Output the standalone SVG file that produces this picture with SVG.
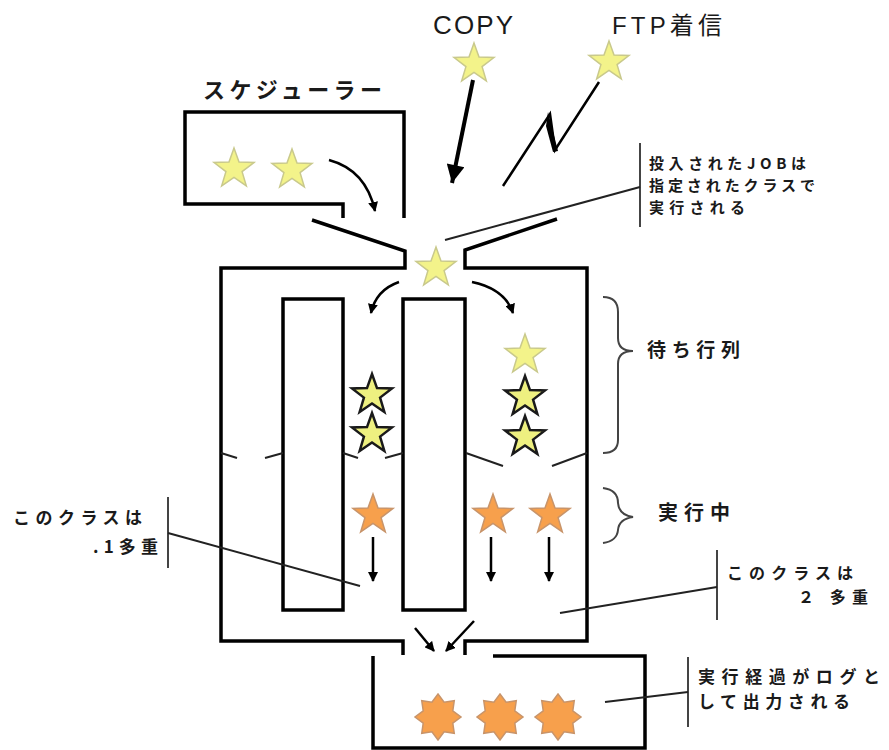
<svg xmlns="http://www.w3.org/2000/svg" xmlns:xlink="http://www.w3.org/1999/xlink" width="889" height="750" viewBox="0 0 889 750">
<style>
.box{fill:none;stroke:#000;stroke-width:3.5;stroke-linejoin:miter}
.thin{fill:none;stroke:#222;stroke-width:2}
.brace{fill:none;stroke:#444;stroke-width:2}
.arrow{fill:none;stroke:#000;stroke-width:2.5}
.ystar{fill:#F3F38A;stroke:#C9C98C;stroke-width:1.5}
.ystar-d{fill:#EEF080;stroke:#1a1a1a;stroke-width:2.5}
.ostar{fill:#F7A04C;stroke:#C8946A;stroke-width:1.5}
.t{font-family:"Noto Sans CJK JP","Liberation Sans",sans-serif;fill:#1a1a1a;font-weight:bold}
.lat{font-family:"Liberation Sans","Noto Sans CJK JP",sans-serif;fill:#1a1a1a}
</style>
<defs>
<path id="s5" d="M0,-21 L5,-6.88 L19.97,-6.49 L8.08,2.63 L12.34,16.99 L0,8.5 L-12.34,16.99 L-8.08,2.63 L-19.97,-6.49 L-5,-6.88 Z"/>
<path id="s8" d="M0,-23 L6.12,-14.78 L16.26,-16.26 L14.78,-6.12 L23,0 L14.78,6.12 L16.26,16.26 L6.12,14.78 L0,23 L-6.12,14.78 L-16.26,16.26 L-14.78,6.12 L-23,0 L-14.78,-6.12 L-16.26,-16.26 L-6.12,-14.78 Z"/>
<marker id="big" viewBox="0 0 10 10" refX="10" refY="5" markerUnits="userSpaceOnUse" markerWidth="20" markerHeight="18" orient="auto"><path d="M0,0 L10,5 L0,10 Z" fill="#000"/></marker>
<marker id="sm" viewBox="0 0 10 10" refX="9" refY="5" markerUnits="userSpaceOnUse" markerWidth="10" markerHeight="10" orient="auto"><path d="M0,0 L10,5 L0,10 Z" fill="#000"/></marker>
</defs>

<g id="scheduler">
<path class="box" d="M343,218 L343,204 L185,204 L185,112 L404,112 L404,218"/>
<text class="t" x="203" y="98" font-size="22" textLength="179" lengthAdjust="spacing">スケジューラー</text>
<use href="#s5" class="ystar" transform="translate(234,169)"/>
<use href="#s5" class="ystar" transform="translate(292,170)"/>
</g>

<g id="copy">
<text class="lat" x="433" y="34" font-size="26" textLength="80" lengthAdjust="spacing">COPY</text>
<use href="#s5" class="ystar" transform="translate(474,64)"/>
</g>

<g id="ftp">
<text class="lat" x="612" y="34" font-size="24" textLength="110" lengthAdjust="spacing">FTP着信</text>
<use href="#s5" class="ystar" transform="translate(609,62)"/>
</g>

<g id="class-box">
<path class="box" d="M312,220 L405,251 L405,268 L221,268 L221,641 L403,641 L403,655"/>
<path class="box" d="M557,219 L465,250 L465,268 L587,268 L587,641 L465,641 L465,655"/>
<rect class="box" x="283" y="299" width="60" height="311"/>
<rect class="box" x="403" y="299" width="62" height="311"/>
<g class="thin" stroke-width="2.5">
<line x1="221" y1="453" x2="237" y2="458"/>
<line x1="283" y1="453" x2="265" y2="458"/>
<line x1="343" y1="453" x2="358" y2="458"/>
<line x1="403" y1="453" x2="385" y2="458"/>
<line x1="466" y1="453" x2="503" y2="466"/>
<line x1="587" y1="453" x2="552" y2="466"/>
</g>
<use href="#s5" class="ystar" transform="translate(436,268)"/>
</g>

<g id="queue">
<use href="#s5" class="ystar-d" transform="translate(372,395)"/>
<use href="#s5" class="ystar-d" transform="translate(372,434)"/>
<use href="#s5" class="ystar" transform="translate(525,355)"/>
<use href="#s5" class="ystar-d" transform="translate(525,397)"/>
<use href="#s5" class="ystar-d" transform="translate(525,437)"/>
<path class="brace" d="M603,297 Q618,297 618,312 L618,338 Q618,351 633,351 Q618,351 618,364 L618,440 Q618,453 603,453"/>
<text class="t" x="647" y="357" font-size="19" textLength="93" lengthAdjust="spacing">待ち行列</text>
</g>

<g id="running">
<use href="#s5" class="ostar" transform="translate(373,515)"/>
<use href="#s5" class="ostar" transform="translate(493,515)"/>
<use href="#s5" class="ostar" transform="translate(550,515)"/>
<path class="brace" d="M603,488 Q618,490 618,503 Q619,515 633,517 Q619,519 618,530 Q617,541 603,543"/>
<text class="t" x="658" y="520" font-size="20" textLength="72" lengthAdjust="spacing">実行中</text>
</g>

<g id="log">
<path class="box" d="M493,656 L645,656 L645,748 L373,748 L373,656"/>
<use href="#s8" class="ostar" transform="translate(438,717)"/>
<use href="#s8" class="ostar" transform="translate(500,717)"/>
<use href="#s8" class="ostar" transform="translate(558,717)"/>
</g>

<g id="note-job">
<line class="brace" x1="640" y1="143" x2="640" y2="227"/>
<text class="t" x="649" y="169" font-size="15" textLength="157" lengthAdjust="spacing">投入されたJOBは</text>
<text class="t" x="649" y="191" font-size="15" textLength="166" lengthAdjust="spacing">指定されたクラスで</text>
<text class="t" x="649" y="213" font-size="15" textLength="96" lengthAdjust="spacing">実行される</text>
</g>

<g id="note-class1">
<line class="brace" x1="168" y1="497" x2="168" y2="568"/>
<text class="t" x="13" y="524" font-size="17" textLength="129" lengthAdjust="spacing">このクラスは</text>
<text class="t" x="93" y="553" font-size="17" textLength="65" lengthAdjust="spacing">.1多重</text>
</g>

<g id="note-class2">
<line class="brace" x1="717" y1="550" x2="717" y2="620"/>
<text class="t" x="727" y="579" font-size="16" textLength="126" lengthAdjust="spacing">このクラスは</text>
<text class="t" x="798" y="603" font-size="16" textLength="70" lengthAdjust="spacing">２ 多重</text>
</g>

<g id="note-log">
<line class="brace" x1="688" y1="657" x2="688" y2="727"/>
<text class="t" x="698" y="683" font-size="17" textLength="182" lengthAdjust="spacing">実行経過がログと</text>
<text class="t" x="698" y="708" font-size="17" textLength="152" lengthAdjust="spacing">して出力される</text>
</g>

<g id="connectors">
<line x1="473" y1="80" x2="452" y2="183" stroke="#000" stroke-width="4" marker-end="url(#big)"/>
<path d="M599,82 L555,150 L550,114 L503,186" fill="none" stroke="#000" stroke-width="2.5" stroke-linejoin="miter"/>
<path d="M548,112 L558,151 L553,152 L546,126 Z" fill="#000"/>
<path class="arrow" d="M329,160 Q366,170 375,211" marker-end="url(#sm)"/>
<path class="arrow" d="M399,282 Q376,290 371,313" marker-end="url(#sm)"/>
<path class="arrow" d="M472,282 Q505,289 513,313" marker-end="url(#sm)"/>
<line class="arrow" x1="373" y1="537" x2="373" y2="581" stroke-width="3" marker-end="url(#sm)"/>
<line class="arrow" x1="491" y1="537" x2="491" y2="581" stroke-width="3" marker-end="url(#sm)"/>
<line class="arrow" x1="549" y1="537" x2="549" y2="581" stroke-width="3" marker-end="url(#sm)"/>
<line class="arrow" x1="415" y1="628" x2="434" y2="651" marker-end="url(#sm)"/>
<line class="arrow" x1="474" y1="621" x2="446" y2="651" marker-end="url(#sm)"/>
<line class="thin" x1="640" y1="187" x2="445" y2="240"/>
<line class="thin" x1="168" y1="533" x2="360" y2="586"/>
<line class="thin" x1="717" y1="587" x2="560" y2="613"/>
<line class="thin" x1="688" y1="692" x2="605" y2="702"/>
</g>
</svg>
